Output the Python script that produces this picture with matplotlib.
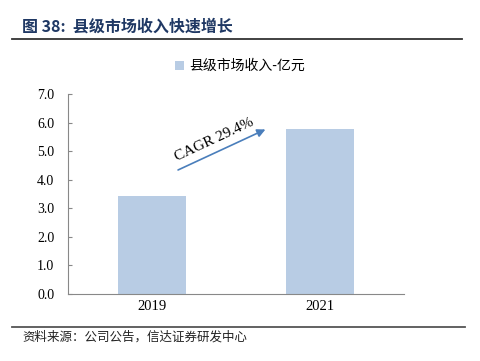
import matplotlib.pyplot as plt
import numpy as np

# data
years = ['2019', '2021']
revenue = [3.44, 5.76]   # 亿元
cagr_label = 'CAGR 29.4%'
yticks = np.arange(0, 7.1, 1.0)

title = '图 38:  县级市场收入快速增长'
legend_label = '县级市场收入-亿元'
source = '资料来源：公司公告，信达证券研发中心'

cjk = ['Noto Sans CJK SC', 'DejaVu Sans']
serif = ['Liberation Serif', 'DejaVu Serif']

fig = plt.figure(figsize=(4.8, 3.61), dpi=100)
ax = fig.add_axes([0.1417, 0.1856, 0.70, 0.554])

x = np.arange(len(years))
ax.bar(x, revenue, width=0.4, color='#b8cce4', label=legend_label)
ax.set_xlim(-0.5, 1.5)
ax.set_ylim(0, 7)
ax.set_yticks(yticks)
ax.set_yticklabels([f'{v:.1f}' for v in yticks], family=serif, fontsize=10)
ax.set_xticks(x)
ax.set_xticklabels(years, family=serif, fontsize=10.5)
ax.tick_params(axis='y', direction='in', length=3, color='#888888', pad=10)
ax.tick_params(axis='x', length=0, pad=4)
for s in ['top', 'right']:
    ax.spines[s].set_visible(False)
for s in ['left', 'bottom']:
    ax.spines[s].set_color('#888888')
    ax.spines[s].set_linewidth(0.8)

# CAGR arrow between the two bars
ax.annotate('', xy=(0.69, 5.8), xytext=(0.14, 4.3),
            arrowprops=dict(arrowstyle='-|>', color='#4a7ebb', lw=1.2,
                            mutation_scale=12))
ax.text(0.37, 5.4, cagr_label, rotation=25, ha='center', va='center',
        family=serif, fontsize=11)

# legend
fig.legend(loc='center', bbox_to_anchor=(0.5, 0.817), frameon=False,
           prop={'family': cjk, 'size': 10}, handlelength=0.6, handleheight=0.6,
           handletextpad=0.4)

# header and footer
fig.text(0.046, 0.925, title, family=cjk, fontsize=11.5, fontweight='bold',
         color='#1f3864', va='center')
fig.add_artist(plt.Line2D([0.025, 0.962], [0.893, 0.893], color='#333333', lw=1.3))
fig.add_artist(plt.Line2D([0.025, 0.968], [0.094, 0.094], color='#555555', lw=1.3))
fig.text(0.046, 0.066, source, family=cjk, fontsize=9, style='italic',
         va='center', color='#222222')

fig.savefig('out.png', dpi=100)
